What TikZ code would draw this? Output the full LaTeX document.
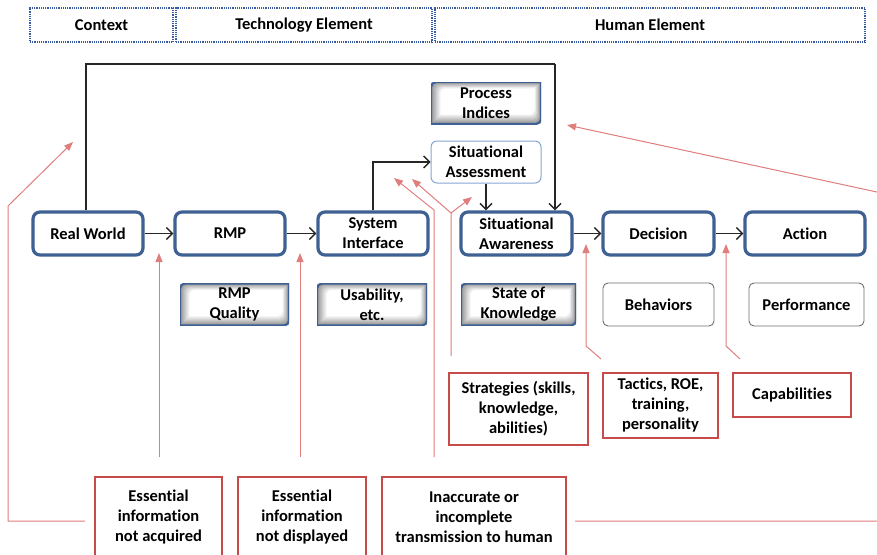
\documentclass[tikz,border=0pt]{standalone}
\usepackage{fontspec}
\setmainfont{Carlito}[RawFeature=-liga]
\usetikzlibrary{arrows.meta,calc}

\definecolor{mainblue}{RGB}{62,96,146}
\definecolor{dotblue}{RGB}{55,90,160}
\definecolor{redbox}{RGB}{200,75,75}
\definecolor{redline}{RGB}{224,125,125}
\definecolor{sablue}{RGB}{135,165,210}
\definecolor{softgray}{RGB}{110,110,110}

% rectangle with rounded top-left and bottom-right corners, inset by
% #1 (left/bottom) and #2 (right/top) inside the path picture box
\newcommand{\diagrect}[2]{%
  ([shift={(#1,#1)}]path picture bounding box.south west) --
  ([shift={(#1,-#2-5pt)}]path picture bounding box.north west)
    arc[start angle=180, end angle=90, radius=5pt] --
  ([shift={(-#2,-#2)}]path picture bounding box.north east) --
  ([shift={(-#2,#1+5pt)}]path picture bounding box.south east)
    arc[start angle=0, end angle=-90, radius=5pt] -- cycle}

\tikzset{
  base/.style={align=center, inner sep=0pt, text=black},
  header/.style={base, draw=dotblue, line width=1.8pt, dash pattern=on 1.2pt off 1pt, minimum height=34pt},
  mainbox/.style={base, draw=mainblue, fill=white, line width=3.2pt, rounded corners=7pt,
    minimum width=110pt, minimum height=43pt},
  % white centre with a grey glow along the border
  glowbox/.style={base, fill=white, minimum width=110pt, minimum height=42pt,
    path picture={
      \foreach \i in {0,...,10} {
        \pgfmathsetmacro{\shadeval}{max(0,42-4.2*\i)}
        \fill[black!\shadeval] \diagrect{\i*0.95pt}{\i*0.65pt};
      }
      \draw[mainblue, line width=2.2pt] \diagrect{0pt}{0pt};
    }},
  plainbox/.style={base, draw=softgray, fill=white, line width=0.9pt, rounded corners=5pt,
    minimum width=111pt, minimum height=43pt},
  assessbox/.style={base, draw=sablue, fill=white, line width=1pt, rounded corners=6pt,
    minimum width=110pt, minimum height=42pt},
  redbox/.style={base, draw=redbox, fill=white, line width=2.2pt},
  flow/.style={draw=black!85, line width=1.5pt, -{Straight Barb[length=6pt,width=12pt,line width=1.4pt]}},
  feed/.style={draw=black!85, line width=1.5pt},
  cause/.style={draw=redline, line width=1pt, -{Triangle[length=9pt,width=7pt]}},
}

\begin{document}
\begin{tikzpicture}[x=1pt, y=-1pt, font=\bfseries\fontsize{16.5}{20}\selectfont]
\useasboundingbox (0,0) rectangle (877,554);
\clip (0,0) rectangle (877,554);

% element headers
\node[header, minimum width=143pt] (ctx)  at (101.5,25) {Context};
\node[header, minimum width=256pt] (tech) at (304,25)   {Technology Element};
\node[header, minimum width=430pt] (hum)  at (650,25)   {Human Element};

% main chain
\node[mainbox] (real) at (88,233.5)  {Real World};
\node[mainbox] (rmp)  at (230,233.5) {RMP};
\node[mainbox] (sys)  at (373,233.5) {System\\Interface};
\node[mainbox, minimum width=111pt] (sa)   at (516.5,233.5) {Situational\\Awareness};
\node[mainbox, minimum width=111pt] (dec)  at (658.5,233.5) {Decision};
\node[mainbox, minimum width=120pt] (act)  at (805,233.5)   {Action};

% upper boxes
\node[glowbox]   (pi)   at (486,103) {Process\\Indices};
\node[assessbox] (sass) at (486,162) {Situational\\Assessment};

% measures of each stage
\node[glowbox, minimum width=109pt] (rmpq) at (234.5,304.5) {RMP\\Quality};
\node[glowbox]                      (usab) at (372,304.5)   {Usability,\\etc.};
\node[glowbox, minimum width=115pt] (sok)  at (518.5,304.5) {State of\\Knowledge};
\node[plainbox]                     (beh)  at (658.5,304.5) {Behaviors};
\node[plainbox, minimum width=115pt](perf) at (806.5,304.5) {Performance};

% human factors
\node[redbox, minimum width=139pt, minimum height=72pt] (strat) at (518.5,409) {Strategies (skills,\\knowledge,\\abilities)};
\node[redbox, minimum width=115pt, minimum height=65pt] (tact)  at (660.5,405.5) {Tactics, ROE,\\training,\\personality};
\node[redbox, minimum width=118pt, minimum height=44pt] (cap)   at (792,395) {Capabilities};

% failure modes
\node[redbox, minimum width=127pt, minimum height=80pt] (ena) at (158.5,517) {Essential\\information\\not acquired};
\node[redbox, minimum width=128pt, minimum height=80pt] (end) at (302,517)   {Essential\\information\\not displayed};
\node[redbox, minimum width=184pt, minimum height=80pt] (inc) at (474,517)   {Inaccurate or\\incomplete\\transmission to human};

% black information flow
\draw[flow] (real) -- (rmp);
\draw[flow] (rmp)  -- (sys);
\draw[flow] (sa)   -- (dec);
\draw[flow] (dec)  -- (act);
\coordinate (loop) at (555,64);
\draw[feed] (real.north -| 86,0) |- (loop);
\draw[flow] (loop) -- (loop |- sa.north);
\draw[flow] (sys.north) |- (sass.west);
\draw[flow] (sass.south) -- (sass.south |- sa.north);

% red causal links
\coordinate (a1) at (73,142);
\draw[cause] ($(ena.west)+(-9,4)$) -| (8,206) -- (a1);
\draw[cause] (159,457) -- (159,253);
\draw[cause] (300,457) -- (300,253);
\coordinate (incturn) at (434,210);
\draw[cause] (434,457) -- (incturn) -- (394,178);
\coordinate (split) at (451,213);
\draw[cause] (451,356) -- (split) -- (412,179);
\draw[cause] (split) -- (472,197);
\draw[cause] (601,359) -- (586,346) -- (586,244);
\draw[cause] (740,359) -- (726,346) -- (726,244);
\draw[cause] ($(inc.east)+(8,4)$) -- (900,521) -- (900,197) -- (567,125);
\end{tikzpicture}
\end{document}
